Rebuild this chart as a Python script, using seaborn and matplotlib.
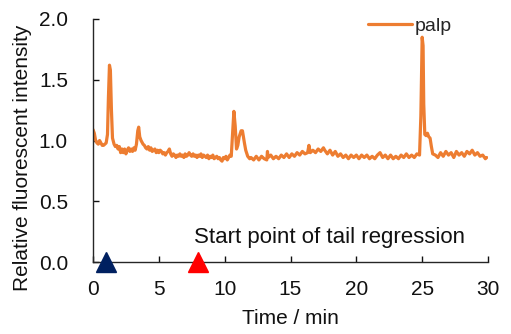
import matplotlib
matplotlib.use("Agg")
import matplotlib.pyplot as plt
import seaborn as sns
import pandas as pd

# Fluorescence trace of the palp (time in minutes, relative intensity)
time_min = [
    0.0, 0.1, 0.2, 0.3, 0.4, 0.5, 0.6, 0.7, 0.8, 0.9,
    1.0, 1.1, 1.17, 1.25, 1.32, 1.4, 1.48, 1.6, 1.7, 1.8,
    1.9, 2.0, 2.1, 2.2, 2.3, 2.4, 2.5, 2.6, 2.7, 2.8,
    2.9, 3.0, 3.1, 3.2, 3.3, 3.4, 3.47, 3.55, 3.65, 3.8, 3.9,
    4.0, 4.1, 4.2, 4.3, 4.4, 4.5, 4.6, 4.7, 4.8, 4.9,
    5.0, 5.1, 5.2, 5.3, 5.4, 5.5, 5.6, 5.7, 5.8, 5.9,
    6.0, 6.1, 6.2, 6.3, 6.4, 6.5, 6.6, 6.7, 6.8, 6.9,
    7.0, 7.1, 7.2, 7.3, 7.4, 7.5, 7.6, 7.7, 7.8, 7.9,
    8.0, 8.1, 8.2, 8.3, 8.4, 8.5, 8.6, 8.7, 8.8, 8.9,
    9.0, 9.1, 9.2, 9.3, 9.4, 9.5, 9.6, 9.7, 9.8, 9.9,
    10.0, 10.1, 10.2, 10.3, 10.4,
    10.5, 10.6, 10.7, 10.8, 10.9, 11.0, 11.1, 11.25, 11.35, 11.5, 11.6, 11.75, 11.9,
    12.0, 12.2, 12.4, 12.6, 12.8, 13.0, 13.2, 13.25, 13.3, 13.5,
    13.7, 13.9, 14.1, 14.3, 14.5, 14.7, 14.9, 15.1, 15.3, 15.5,
    15.7, 15.9, 16.1, 16.3, 16.4, 16.5, 16.7, 16.9, 17.1, 17.3,
    17.5, 17.6, 17.8, 18.0, 18.2, 18.4, 18.6, 18.8, 19.0, 19.2,
    19.4, 19.6, 19.8, 20.0, 20.2, 20.4, 20.6, 20.8, 21.0, 21.2,
    21.4, 21.6, 21.8, 22.0, 22.2, 22.4, 22.6, 22.8, 23.0, 23.2,
    23.4, 23.6, 23.8, 24.0, 24.2, 24.4, 24.6, 24.8,
    24.9, 25.0, 25.07, 25.12, 25.2, 25.3, 25.4, 25.5, 25.6, 25.7, 25.8,
    26.0, 26.2, 26.4, 26.6, 26.8, 27.0, 27.2, 27.4, 27.6, 27.8,
    28.0, 28.2, 28.4, 28.6, 28.8, 29.0, 29.2, 29.4, 29.6, 29.8, 29.9,
]
palp_intensity = [
    1.09, 1.06, 1.00, 0.98, 0.97, 1.00, 0.98, 0.96, 0.96, 0.97,
    0.98, 1.05, 1.35, 1.62, 1.58, 1.25, 1.02, 0.97, 0.95, 0.96,
    0.93, 0.95, 0.90, 0.93, 0.90, 0.93, 0.89, 0.92, 0.94, 0.91,
    0.93, 0.91, 0.94, 0.92, 0.97, 1.08, 1.11, 1.03, 1.00, 0.97, 0.96,
    0.94, 0.93, 0.95, 0.92, 0.94, 0.91, 0.92, 0.93, 0.90, 0.92,
    0.90, 0.92, 0.91, 0.89, 0.90, 0.88, 0.90, 0.91, 0.93, 0.89,
    0.87, 0.89, 0.88, 0.86, 0.88, 0.87, 0.89, 0.87, 0.88, 0.86,
    0.89, 0.87, 0.88, 0.90, 0.88, 0.87, 0.89, 0.87, 0.88, 0.86,
    0.88, 0.87, 0.89, 0.86, 0.88, 0.87, 0.86, 0.88, 0.85, 0.87,
    0.86, 0.88, 0.85, 0.86, 0.87, 0.85, 0.86, 0.84, 0.83, 0.86,
    0.85, 0.87, 0.84, 0.86, 0.88,
    0.87, 1.05, 1.24, 1.12, 0.93, 0.96, 1.03, 1.08, 1.08, 0.98, 0.92, 0.87, 0.85,
    0.86, 0.84, 0.87, 0.84, 0.87, 0.85, 0.84, 0.91, 0.86, 0.88,
    0.85, 0.87, 0.85, 0.88, 0.86, 0.89, 0.86, 0.89, 0.87, 0.90,
    0.88, 0.91, 0.89, 0.90, 0.96, 0.90, 0.92, 0.90, 0.93, 0.91,
    0.94, 0.92, 0.89, 0.92, 0.88, 0.91, 0.87, 0.89, 0.86, 0.88,
    0.85, 0.88, 0.86, 0.88, 0.85, 0.88, 0.86, 0.88, 0.85, 0.87,
    0.85, 0.88, 0.90, 0.86, 0.88, 0.85, 0.88, 0.85, 0.87, 0.85,
    0.88, 0.86, 0.89, 0.86, 0.88, 0.86, 0.89, 0.88,
    1.20, 1.85, 1.78, 1.30, 1.05, 1.04, 1.06, 1.03, 1.02, 0.95, 0.89,
    0.88, 0.86, 0.90, 0.87, 0.91, 0.88, 0.90, 0.86, 0.91, 0.88,
    0.90, 0.87, 0.91, 0.89, 0.92, 0.88, 0.90, 0.87, 0.88, 0.85, 0.86,
]

# Event markers on the time axis
event_times = [1.0, 8.0]
event_colors = ["#002060", "#FF0000"]

x_ticks = [0, 5, 10, 15, 20, 25, 30]
y_ticks = [0.0, 0.5, 1.0, 1.5, 2.0]

sns.set_theme(style="ticks")
plt.rcParams["font.family"] = ["Liberation Sans", "DejaVu Sans"]

trace = pd.DataFrame({"time": time_min, "intensity": palp_intensity})
events = pd.DataFrame({"time": event_times, "level": [0.0, 0.0], "color": event_colors})

fig = plt.figure(figsize=(5.11, 3.34), dpi=100)
ax = fig.add_axes([93 / 511, 1 - 262 / 334, 395 / 511, 243 / 334])

sns.lineplot(data=trace, x="time", y="intensity", ax=ax, color="#ED7D31",
             linewidth=2.3, label="palp", sort=False)

for _, row in events.iterrows():
    ax.plot(row["time"], row["level"], marker="^", markersize=14.5,
            color=row["color"], linestyle="none", clip_on=False, zorder=5)

ax.text(7.67, 0.205, "Start point of tail regression", fontsize=16,
        ha="left", va="center", color="#111111")

ax.set_xlim(0, 30)
ax.set_ylim(0, 2.0)
ax.set_xticks(x_ticks)
ax.set_yticks(y_ticks)
ax.set_yticklabels([f"{v:.1f}" for v in y_ticks])
ax.tick_params(axis="both", direction="in", length=4, width=1.0,
               labelsize=15, colors="#111111")
ax.tick_params(axis="y", pad=18)
ax.tick_params(axis="x", pad=13)

sns.despine(ax=ax)
for side in ("left", "bottom"):
    ax.spines[side].set_color("#262626")
    ax.spines[side].set_linewidth(1.0)

ax.set_xlabel("Time / min", fontsize=15, va="center", color="#111111")
ax.xaxis.set_label_coords(0.5, (262 - 318) / 243)
ax.set_ylabel("Relative fluorescent intensity", fontsize=15, va="center", color="#111111")
ax.yaxis.set_label_coords((23 - 93) / 395, (262 - 158) / 243)

ax.legend(loc="center left", bbox_to_anchor=(368 / 511, 1 - 25.7 / 334),
          bbox_transform=fig.transFigure, frameon=False, fontsize=14,
          handlelength=2.25, handletextpad=0.15, borderpad=0, borderaxespad=0)

fig.savefig("out.png", dpi=100)
